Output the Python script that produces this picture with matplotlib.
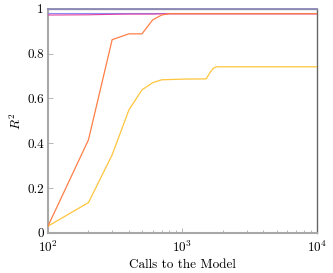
import matplotlib.pyplot as plt
import numpy as np

plt.rcParams['font.family'] = 'serif'
plt.rcParams['font.serif'] = ['cmr10', 'DejaVu Serif']
plt.rcParams['mathtext.fontset'] = 'cm'
plt.rcParams['axes.formatter.use_mathtext'] = True

calls = [100, 200, 300, 400, 500, 600, 700, 800, 900, 1000,
         1500, 1600, 1700, 1800, 2000, 3000, 5000, 10000]

r2_top = [1.0] * len(calls)
r2_blue = [0.983] * len(calls)
r2_magenta = [0.972, 0.973, 0.975, 0.976, 0.976, 0.976, 0.977, 0.977, 0.977, 0.977,
              0.977, 0.977, 0.977, 0.977, 0.977, 0.977, 0.977, 0.977]
r2_orange = [0.03, 0.415, 0.862, 0.888, 0.888, 0.95, 0.972, 0.978, 0.978, 0.978,
             0.978, 0.978, 0.978, 0.978, 0.978, 0.978, 0.978, 0.978]
r2_yellow = [0.03, 0.135, 0.348, 0.549, 0.638, 0.67, 0.683, 0.684, 0.685, 0.686,
             0.687, 0.715, 0.735, 0.741, 0.741, 0.741, 0.741, 0.741]

yticks = [0, 0.2, 0.4, 0.6, 0.8, 1]
ytick_labels = ['0', '0.2', '0.4', '0.6', '0.8', '1']

fig = plt.figure(figsize=(3.33, 2.73), dpi=100)
ax = fig.add_axes([0.144, 0.147, 0.808, 0.821])

ax.plot(calls, r2_blue, color='#8c8cf0', lw=0.8, zorder=3)
ax.plot(calls, r2_top, color='#8a86b4', lw=1.3, zorder=4, clip_on=False)
ax.plot(calls, r2_magenta, color='#e040a0', lw=0.8, zorder=3)
ax.plot(calls, r2_yellow, color='#ffc53d', lw=0.9, zorder=3)
ax.plot(calls, r2_orange, color='#ff7f45', lw=0.9, zorder=3)

ax.set_xscale('log')
ax.set_xlim(100, 10000)
ax.set_ylim(0, 1)
ax.set_yticks(yticks)
ax.set_yticklabels(ytick_labels)
ax.set_xticks([100, 1000, 10000])
ax.set_xticklabels([r'$10^2$', r'$10^3$', r'$10^4$'])

ax.tick_params(axis='both', which='major', direction='in', length=3.5, width=0.6,
               color='#aaaaaa', labelsize=9.5)
ax.tick_params(axis='y', which='major', pad=3)
ax.tick_params(axis='x', which='major', pad=5)
ax.tick_params(axis='x', which='minor', direction='in', length=2.2, width=0.6,
               color='#aaaaaa')
ax.tick_params(top=False, right=False, which='both')

for side in ['left', 'bottom']:
    ax.spines[side].set_color('#a8a8a8')
    ax.spines[side].set_linewidth(1.5)
ax.spines['right'].set_color('#666666')
ax.spines['right'].set_linewidth(1.0)
ax.spines['top'].set_color('#a8a8a8')
ax.spines['top'].set_linewidth(1.0)

ax.set_xlabel('Calls to the Model', fontsize=9.5, labelpad=3)
ax.set_ylabel(r'$R^2$', fontsize=9.5, labelpad=2)

fig.savefig('out.png', dpi=100)
